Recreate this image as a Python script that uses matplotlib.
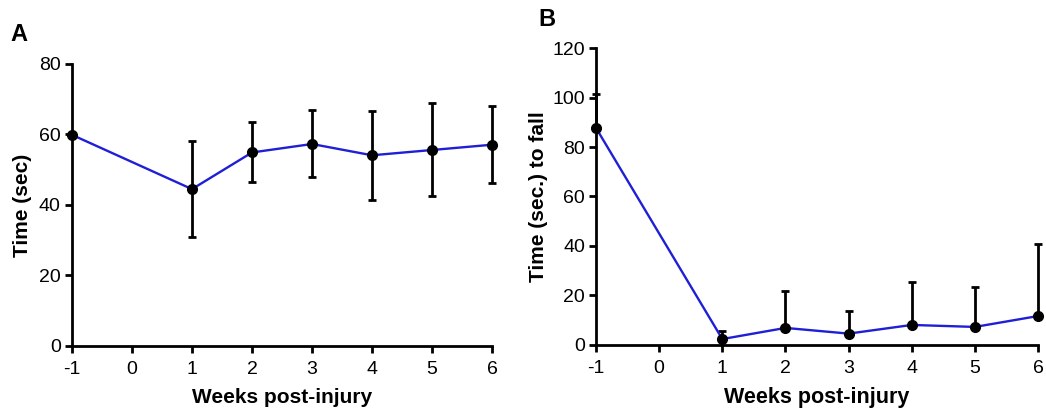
import matplotlib

matplotlib.use("Agg")
import matplotlib.pyplot as plt

plt.rcParams["font.family"] = ["Liberation Sans", "DejaVu Sans"]

weeks = [-1, 1, 2, 3, 4, 5, 6]
xticks = [-1, 0, 1, 2, 3, 4, 5, 6]

# panel A: time (sec), mean with lower/upper bounds (baseline has no spread)
a_mean = [59.9, 44.5, 54.9, 57.3, 54.1, 55.6, 57.1]
a_low = [59.9, 30.8, 46.4, 47.8, 41.4, 42.6, 46.3]
a_high = [59.9, 58.2, 63.6, 67.0, 66.7, 68.9, 68.2]

# panel B: time (sec.) to fall, upper bars only
b_mean = [87.7, 2.4, 6.9, 4.6, 8.1, 7.3, 11.7]
b_high = [101.3, 5.7, 21.8, 13.7, 25.6, 23.5, 41.0]

BLUE = "#1f1fd6"


def style_axis(ax, yticks):
    for s in ("top", "right"):
        ax.spines[s].set_visible(False)
    for s in ("left", "bottom"):
        ax.spines[s].set_linewidth(2)
    ax.tick_params(width=2, length=5, labelsize=14, direction="out", pad=3)
    ax.tick_params(axis="x", pad=6)
    ax.set_xticks(xticks)
    ax.set_xticklabels([str(t) for t in xticks])
    ax.set_yticks(yticks)
    ax.set_xlim(-1, 6)
    ax.set_ylim(yticks[0], yticks[-1])


def draw_series(ax, mean, lower, upper):
    # skip bars with zero spread so no stray caps are drawn
    xs, ys, lo, hi = [], [], [], []
    for x, m, l, h in zip(weeks, mean, lower, upper):
        if h - m > 0 or m - l > 0:
            xs.append(x)
            ys.append(m)
            lo.append(m - l)
            hi.append(h - m)
    ax.errorbar(xs, ys, yerr=[lo, hi], fmt="none", ecolor="black", elinewidth=2,
                capsize=3, capthick=2, clip_on=False, zorder=3)
    ax.plot(weeks, mean, color=BLUE, lw=1.7, zorder=4, clip_on=False)
    ax.plot(weeks, mean, "o", color="black", ms=7, zorder=5, clip_on=False)


fig = plt.figure(figsize=(10.46, 4.11), dpi=100)

axA = fig.add_axes([0.0688, 0.1582, 0.4016, 0.6861])
draw_series(axA, a_mean, a_low, a_high)
style_axis(axA, [0, 20, 40, 60, 80])
axA.set_xlabel("Weeks post-injury", fontsize=15, fontweight="bold", labelpad=7)
axA.set_ylabel("Time (sec)", fontsize=15, fontweight="bold", labelpad=5)

axB = fig.add_axes([0.5698, 0.1606, 0.4226, 0.7226])
draw_series(axB, b_mean, b_mean, b_high)
style_axis(axB, [0, 20, 40, 60, 80, 100, 120])
axB.set_xlabel("Weeks post-injury", fontsize=15.5, fontweight="bold", labelpad=7)
axB.set_ylabel("Time (sec.) to fall", fontsize=15, fontweight="bold", labelpad=3)

fig.text(0.010, 0.915, "A", fontsize=17, fontweight="bold", va="center")
fig.text(0.515, 0.952, "B", fontsize=17, fontweight="bold", va="center")

fig.savefig("out.png", dpi=100)
plt.close(fig)
